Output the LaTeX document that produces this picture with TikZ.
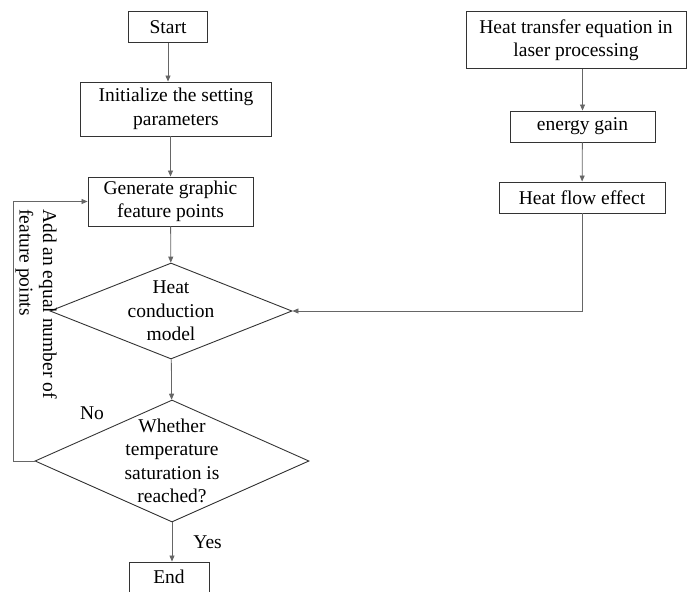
\documentclass[tikz,border=0pt]{standalone}
\usepackage{fontspec}
\setmainfont{Liberation Serif}
\usetikzlibrary{arrows.meta, positioning, shapes.geometric, calc}

\begin{document}
\begin{tikzpicture}[
    x=1pt, y=-1pt,
    every node/.style={font=\fontsize{19.5}{23.5}\selectfont},
    process/.style={rectangle, draw=black!80, line width=0.9pt, align=center, inner sep=0pt},
    decision/.style={diamond, draw=black!80, line width=0.9pt, align=center, inner sep=-30pt},
    arrow/.style={-{Triangle[length=6pt, width=5pt]}, draw=black!60, line width=0.8pt},
    yesno/.style={inner sep=1pt}
]
\useasboundingbox (0,0) rectangle (687,591);

% Main column
\node[process, minimum width=79pt, minimum height=31pt] (start) at (168, 27) {Start};
\node[process, minimum width=191pt, minimum height=54pt] (init) at (176, 109) {Initialize the setting\\parameters};
\node[process, minimum width=165pt, minimum height=49pt] (gen) at (170.5, 201.5) {Generate graphic\\feature points};
\node[decision, minimum width=242pt, minimum height=96pt] (model) at (171, 311) {Heat\\conduction\\model};
\node[decision, minimum width=274pt, minimum height=122pt] (check) at (172, 461) {Whether\\temperature\\saturation is\\reached?};
\node[process, minimum width=80pt, minimum height=30pt] (finish) at (169, 577) {End};

\draw[arrow] (start) -- (start |- init.north);
\draw[arrow] (init) -- (init.south -| gen) -- (gen);
\draw[arrow] (gen) -- (model);
\draw[arrow] (model) -- (check);
\draw[arrow] (check.south) -- node[yesno, right=20pt] {Yes} (check.south |- finish.north);

% Right column
\node[process, minimum width=220pt, minimum height=57pt] (transfer) at (576, 40) {Heat transfer equation in\\laser processing};
\node[process, minimum width=145pt, minimum height=31pt] (gain) at (582.5, 126.5) {energy gain};
\node[process, minimum width=166pt, minimum height=31pt] (flow) at (582, 197.5) {Heat flow effect};

\draw[arrow] (transfer.south -| gain) -- (gain);
\draw[arrow] (gain) -- (flow);
\draw[arrow] (flow) |- (model.east);

% Feedback loop
\coordinate (loop) at (13, 0);
\draw[arrow] (check.west) -- (check.west -| loop) |- (gen.west);
\node[yesno] (no) at (92, 413) {No};
\node[rotate=-90, align=left, anchor=north west, inner sep=0pt] (add) at (57, 209) {Add an equal number of\\feature points};

\end{tikzpicture}
\end{document}
